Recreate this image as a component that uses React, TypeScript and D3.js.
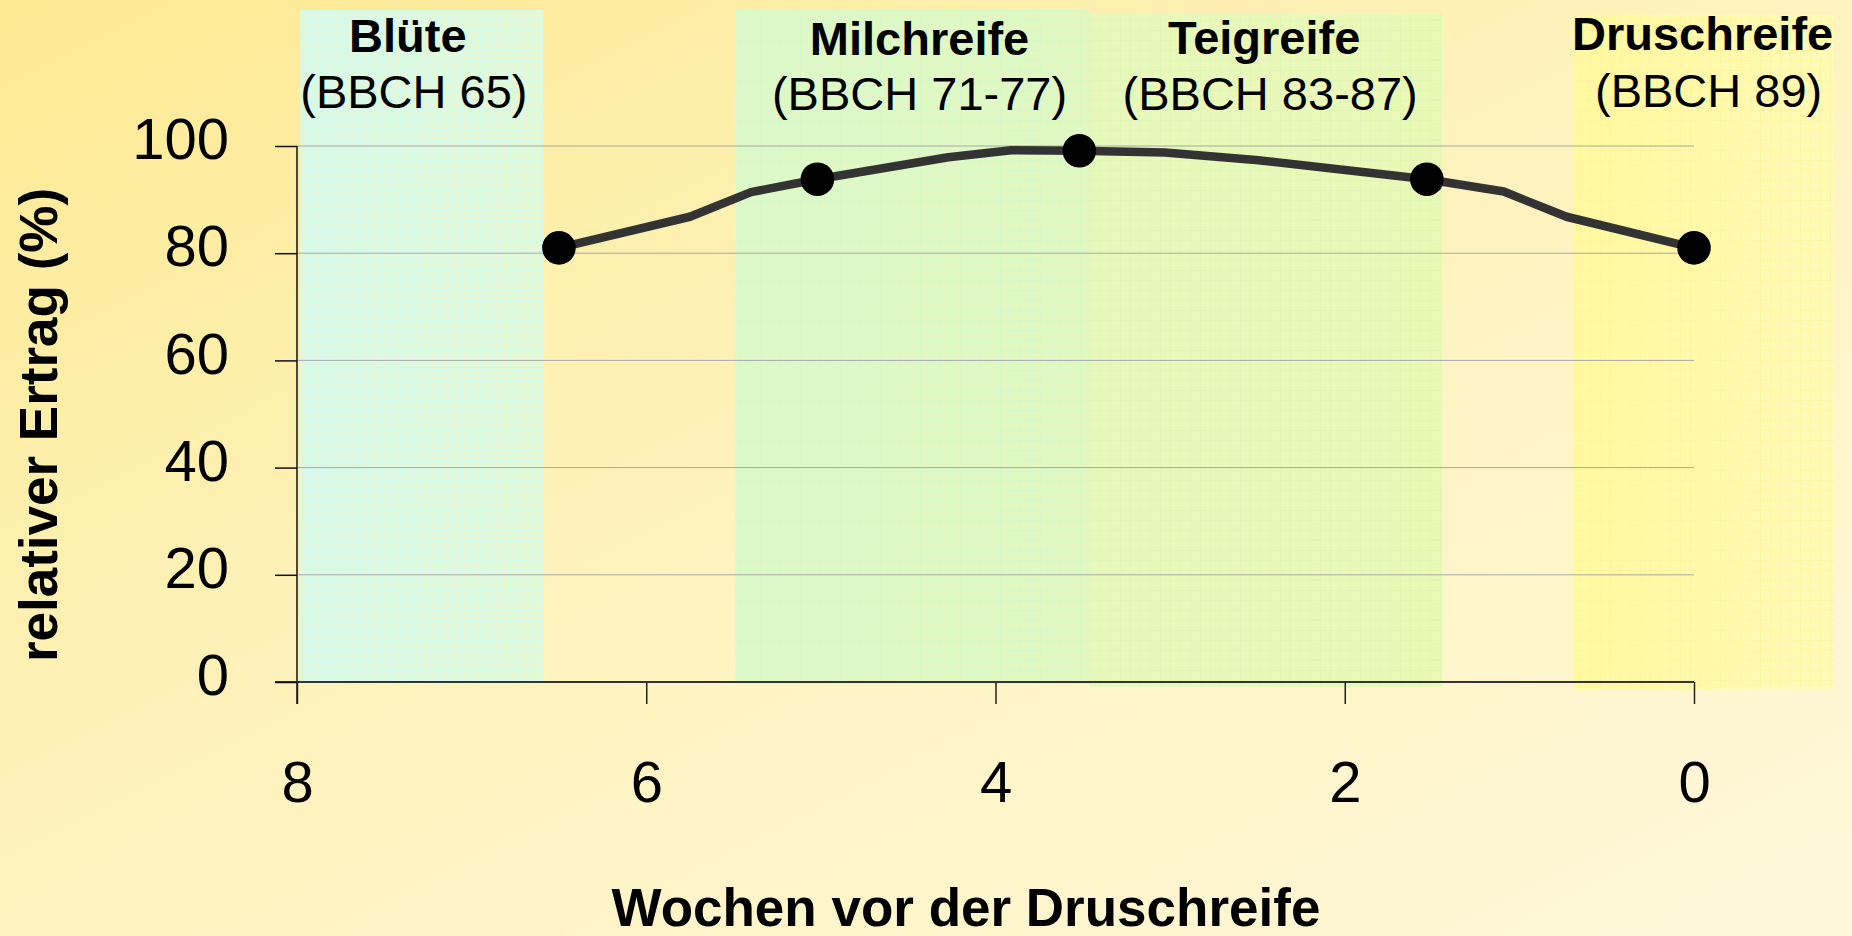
import React, { useEffect, useMemo, useRef } from "react";
import * as d3 from "d3";

const WIDTH = 1852;
const HEIGHT = 936;
const FONT = "'Liberation Sans', Arial, Helvetica, sans-serif";

// line (weeks before harvest ripeness -> relative yield %)
const lineWeeks = [6.5, 5.75, 5.4, 5.02, 4.27, 3.91, 3.52, 3.03, 2.51, 1.53, 1.09, 0.73, 0.0];
const lineYield = [81, 86.8, 91.4, 93.8, 97.9, 99.2, 99.1, 98.8, 97.4, 93.8, 91.5, 86.8, 81];

// measured points (black dots)
const dotWeeks = [6.5, 5.02, 3.52, 1.53, 0.0];
const dotYield = [81, 93.8, 99.1, 93.8, 81];

const xTicks = [8, 6, 4, 2, 0];
const yTicks = [0, 20, 40, 60, 80, 100];

// growth stages (weeks)
const stageNames = ["Blüte", "Milchreife", "Teigreife", "Druschreife"];
const stageCodes = ["(BBCH 65)", "(BBCH 71-77)", "(BBCH 83-87)", "(BBCH 89)"];
const stageFrom = [7.98, 5.49, 3.46, 0.69];
const stageTo = [6.59, 3.46, 1.44, -0.8];

const STAGE_STYLE = [
  { top: 10, bottom: 682, c1: "#dcf8e4", c2: "#e6f8d2", grid: "#d2fbee", nameX: -14, codeX: -8 },
  { top: 10, bottom: 684, c1: "#dff8c8", c2: "#e3f8c0", grid: "#d6f7c8", nameX: 7, codeX: 7 },
  { top: 13, bottom: 687, c1: "#e8f8bd", c2: "#ebf8b6", grid: "#e0f6b4", nameX: -2, codeX: 4 },
  { top: 15, bottom: 689, c1: "#fff99e", c2: "#fffbb8", grid: "#fff3a0", nameX: -1, codeX: 5 },
];
const NAME_Y = [52, 55, 54, 50];
const CODE_Y = [108, 110, 110, 107];

const MARGIN = { left: 297, right: 158, top: 146, bottom: 254 };

export default function App() {
  const xAxisRef = useRef<SVGGElement>(null);
  const yAxisRef = useRef<SVGGElement>(null);

  const xScale = useMemo(
    () => d3.scaleLinear().domain([8, 0]).range([MARGIN.left, WIDTH - MARGIN.right]),
    []
  );
  const yScale = useMemo(
    () => d3.scaleLinear().domain([0, 100]).range([HEIGHT - MARGIN.bottom, MARGIN.top]),
    []
  );

  const linePts = lineWeeks.map((w, i) => [w, lineYield[i]] as [number, number]);
  const linePath = d3
    .line<[number, number]>()
    .x(d => xScale(d[0]))
    .y(d => yScale(d[1]))(linePts);

  useEffect(() => {
    const yAxis = d3.select(yAxisRef.current);
    yAxis.selectAll("*").remove();
    yAxis
      .call(d3.axisLeft(yScale).tickValues(yTicks).tickSize(22).tickSizeOuter(0).tickPadding(46))
      .call(g => g.select(".domain").remove());
    yAxis.selectAll(".tick line").attr("stroke", "#111").attr("stroke-width", 1.5);
    yAxis
      .selectAll(".tick text")
      .attr("dy", "0.22em")
      .attr("fill", "#000")
      .style("font-family", FONT)
      .style("font-size", "58px");

    const xAxis = d3.select(xAxisRef.current);
    xAxis.selectAll("*").remove();
    xAxis
      .call(d3.axisBottom(xScale).tickValues(xTicks).tickSize(22).tickSizeOuter(0).tickPadding(57))
      .call(g => g.select(".domain").remove());
    xAxis.selectAll(".tick line").attr("stroke", "#222").attr("stroke-width", 1.5);
    xAxis
      .selectAll(".tick text")
      .attr("fill", "#000")
      .style("font-family", FONT)
      .style("font-size", "58px");
  }, [xScale, yScale]);

  const x0 = xScale(8);
  const xEnd = xScale(0);
  const yBase = yScale(0);

  return (
    <svg
      width={WIDTH}
      height={HEIGHT}
      style={{ position: "absolute", left: 0, top: 0, display: "block" }}
    >
      <defs>
        <linearGradient id="bg" x1="0" y1="0" x2="1" y2="1">
          <stop offset="0" stopColor="#fdea92" />
          <stop offset="0.45" stopColor="#fef2bc" />
          <stop offset="1" stopColor="#fff8da" />
        </linearGradient>
        {STAGE_STYLE.map((s, i) => (
          <React.Fragment key={i}>
            <linearGradient id={`st${i}`} x1="0" y1="0" x2="1" y2="0">
              <stop offset="0" stopColor={s.c1} />
              <stop offset="1" stopColor={s.c2} />
            </linearGradient>
            <pattern id={`gr${i}`} width="10" height="10" patternUnits="userSpaceOnUse">
              <path d="M0 0.5H10M0.5 0V10" stroke={s.grid} strokeWidth={1} fill="none" opacity={0.8} />
            </pattern>
          </React.Fragment>
        ))}
      </defs>

      <rect x={0} y={0} width={WIDTH} height={HEIGHT} fill="url(#bg)" />

      {stageNames.map((name, i) => {
        const s = STAGE_STYLE[i];
        const a = xScale(stageFrom[i]);
        const b = xScale(stageTo[i]);
        return (
          <g key={name}>
            <rect x={a} y={s.top} width={b - a} height={s.bottom - s.top} fill={`url(#st${i})`} />
            <rect x={a} y={s.top} width={b - a} height={s.bottom - s.top} fill={`url(#gr${i})`} />
          </g>
        );
      })}

      {/* gridlines */}
      {yTicks.filter(t => t > 0).map(t => (
        <line
          key={t}
          x1={x0}
          x2={xEnd}
          y1={yScale(t)}
          y2={yScale(t)}
          stroke="#a8a8a8"
          strokeWidth={1}
        />
      ))}

      {/* axis lines */}
      <line x1={x0} x2={x0} y1={yScale(100)} y2={yBase + 22} stroke="#111" strokeWidth={1.5} />
      <line x1={x0 - 22} x2={xEnd} y1={yBase} y2={yBase} stroke="#333" strokeWidth={2} />

      <g ref={yAxisRef} transform={`translate(${x0},0)`} />
      <g ref={xAxisRef} transform={`translate(0,${yBase})`} />

      {/* yield curve */}
      <path d={linePath || ""} fill="none" stroke="#333333" strokeWidth={8.5} strokeLinejoin="round" />
      {dotWeeks.map((w, i) => (
        <circle key={i} cx={xScale(w)} cy={yScale(dotYield[i])} r={16.8} fill="#000" />
      ))}

      {/* stage labels */}
      {stageNames.map((name, i) => {
        const s = STAGE_STYLE[i];
        const mid = (xScale(stageFrom[i]) + xScale(stageTo[i])) / 2;
        return (
          <g key={`lab${i}`} fontFamily={FONT} fill="#000" textAnchor="middle">
            <text x={mid + s.nameX} y={NAME_Y[i]} fontSize={47} fontWeight="bold">
              {name}
            </text>
            <text x={mid + s.codeX} y={CODE_Y[i]} fontSize={47}>
              {stageCodes[i]}
            </text>
          </g>
        );
      })}

      {/* axis titles */}
      <text
        transform="translate(57,425) rotate(-90)"
        textAnchor="middle"
        fontFamily={FONT}
        fontWeight="bold"
        fontSize={53}
        fill="#000"
      >
        relativer Ertrag (%)
      </text>
      <text
        x={966}
        y={926}
        textAnchor="middle"
        fontFamily={FONT}
        fontWeight="bold"
        fontSize={53}
        fill="#000"
      >
        Wochen vor der Druschreife
      </text>
    </svg>
  );
}
